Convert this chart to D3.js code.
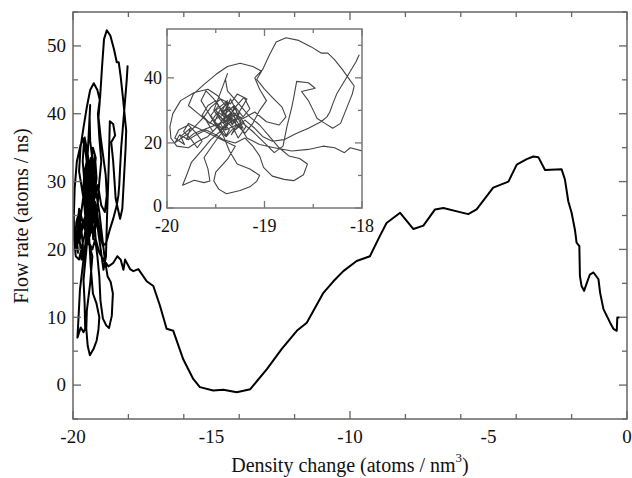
<!DOCTYPE html>
<html><head><meta charset="utf-8">
<script src="https://cdn.jsdelivr.net/npm/d3@7"></script>
<style>body{margin:0;background:#fff}svg{display:block}text{font-family:"Liberation Serif","Times New Roman",serif;fill:#111}</style>
</head><body>
<script>
// Trajectory: chaotic part (density change, flow rate)
const chaosDensity = [-18.03,-18.06,-18.10,-18.15,-18.20,-18.26,-18.30,-18.33,-18.36,-18.42,-18.55,-18.68,-18.80,-18.92,-19.02,
 -19.10,-19.20,-19.28,-19.35,-19.42,-19.38,-19.30,-19.45,-19.52,-19.40,-19.33,-19.25,-19.18,-19.28,-19.35,-19.45,-19.55,-19.62,-19.70,-19.78,-19.85,-19.92,-19.87,-19.78,-19.70,-19.60,-19.50,-19.42,-19.30,-19.20,-19.12,
 -19.05,-19.01,-18.92,-18.80,-18.70,-18.60,-18.56,-18.64,-18.75,-18.85,-18.95,
 -19.05,-19.15,-19.25,-19.38,-19.40,-19.38,-19.42,-19.47,-19.52,-19.45,-19.36,-19.40,-19.48,-19.58,-19.68,-19.78,-19.73,-19.62,-19.50,-19.38,-19.25,-19.12,-19.03,-19.08,-19.00,-18.92,-18.82,-18.78,-18.85,-18.98,-19.10,-19.22,-19.32,-19.40,-19.47,-19.38,
 -19.55,-19.65,-19.75,-19.80,-19.84,-19.72,-19.62,-19.56,-19.58,-19.62,-19.55,-19.48,-19.40,-19.33,-19.44,-19.36,-19.28,-19.22,
 -19.30,-19.26,-19.36,-19.31,-19.44,-19.38,-19.50,-19.43,-19.35,-19.40,-19.29,-19.34,-19.24,-19.30,-19.41,-19.47,-19.55,-19.49,-19.60,-19.53,-19.45,-19.39,-19.32,-19.27,-19.19,-19.25,-19.33,-19.42,-19.37,-19.46,-19.51,-19.44,-19.36,-19.28,-19.35,-19.40,-19.31,-19.22,-19.15,-19.21,-19.30,-19.38,-19.48,-19.56,-19.64,-19.58,-19.50,-19.43,-19.37,
 -19.72,-19.80,-19.76,-19.86,-19.82,-19.92,-19.88,-19.78,-19.70,-19.64,-19.69,-19.75,-19.83,-19.78,
 -19.30,-19.38,-19.50,-19.52,-19.47,-19.39,-19.25,-19.15,-19.08,-19.05,-19.15,-19.28,-19.36,-19.42,-19.50,-19.58,-19.65,-19.60,-19.52,-19.45,-19.38,-19.30,-19.20,-19.12,-19.05,-18.98,
 -19.05,-19.10,-19.02,-18.95,-18.88,-18.78,-18.65,-18.52,-18.42,-18.35,-18.28,-18.20,-18.14,-18.08,-18.10,-18.14,-18.18,-18.22,-18.30,-18.38,-18.46,-18.50,-18.55,-18.62,-18.48,-18.55,-18.67,-18.70,-18.72,-18.77,-18.81,-18.90,-19.00,-19.12,-19.22,-19.30,-19.42,-19.50,-19.58,-19.68,-19.78,-19.90,-19.96,-19.97,-19.94,-19.86,-19.72,-19.58,-19.48,-19.40,-19.32,-19.25,-19.18,-19.05,-18.90,-18.72,-18.55,-18.40,-18.28,-18.18];
const chaosFlow = [47.0,45.0,43.0,40.5,38.0,35.0,32.0,29.5,28.0,26.5,24.5,22.8,21.0,20.5,22.0,
 24.5,27.0,25.0,28.5,26.0,30.5,27.5,24.0,27.0,29.0,25.5,30.0,33.5,35.0,32.0,33.5,31.0,28.0,25.5,23.0,21.5,20.0,22.5,21.0,22.5,24.0,22.5,21.0,20.0,21.5,19.0,
 16.0,12.5,9.8,8.8,8.4,10.2,13.5,15.2,16.0,18.5,22.0,
 25.5,28.0,31.5,36.0,39.5,41.3,38.0,34.0,30.0,27.0,24.0,22.0,25.0,26.5,29.0,31.5,35.0,38.0,41.0,43.5,44.5,43.5,42.0,39.5,36.5,34.0,31.0,28.0,25.5,26.5,29.5,27.5,29.0,26.5,28.5,25.5,
 21.0,17.5,14.0,10.0,7.0,8.5,7.8,8.3,12.0,15.5,18.5,21.5,24.5,27.5,29.5,31.0,28.0,24.5,
 26.0,29.0,27.5,31.0,29.5,33.0,30.0,27.0,28.5,24.0,25.5,22.5,26.5,30.5,27.5,31.5,28.5,25.0,27.0,23.5,26.0,22.0,24.5,21.5,25.0,28.0,26.0,29.0,32.5,30.0,26.5,24.5,27.0,29.5,33.5,29.0,31.5,28.0,30.5,34.0,31.0,27.5,29.5,26.0,28.5,31.5,33.0,29.5,27.0,
 23.0,21.0,24.5,22.0,19.5,21.5,24.0,25.5,23.0,20.5,18.5,21.0,23.5,26.0,
 19.0,15.0,11.0,8.3,5.8,4.4,5.4,6.5,8.2,10.0,12.0,13.5,17.5,22.0,25.5,29.5,33.0,36.0,33.5,30.5,28.0,26.0,23.0,26.0,30.0,33.0,
 36.5,40.0,42.5,47.0,51.0,52.3,51.5,49.5,47.6,47.6,45.5,42.5,40.0,37.5,35.0,32.0,29.0,26.0,24.5,26.0,27.5,30.0,33.0,35.8,36.8,38.5,38.9,34.0,31.0,25.0,19.0,17.0,20.0,23.5,26.0,24.0,27.5,24.5,22.0,20.5,18.5,19.0,21.5,25.0,29.0,33.0,35.5,36.5,34.5,31.5,28.5,25.0,21.5,19.5,18.5,17.5,18.0,19.0,18.5,17.0];
// Trajectory: smooth part toward zero density change
const tailDensity = [-18.12,-17.94,-17.82,-17.64,-17.34,-17.10,-16.86,-16.62,-16.38,-16.02,-15.66,-15.42,-14.94,-14.57,-14.09,-13.6,-13.0,-12.47,-11.92,-11.56,-10.96,-10.6,-10.24,-9.76,-9.28,-8.92,-8.68,-8.19,-7.71,-7.35,-6.93,-6.63,-6.03,-5.73,-5.43,-4.83,-4.28,-3.98,-3.62,-3.38,-3.2,-2.96,-2.36,-2.24,-2.12,-2.0,-1.88,-1.82,-1.72,-1.70,-1.64,-1.55,-1.43,-1.34,-1.21,-1.03,-0.97,-0.85,-0.73,-0.61,-0.49,-0.37,-0.35,-0.29];
const tailFlow = [18.5,17.1,16.8,17.1,15.3,14.6,11.7,8.3,8.0,3.8,0.9,-0.3,-0.8,-0.7,-1.07,-0.6,2.35,5.3,8.0,9.2,13.6,15.3,16.8,18.3,19.0,22.0,23.9,25.4,23.0,23.5,25.9,26.1,25.5,25.2,25.9,29.1,30.0,32.5,33.3,33.7,33.6,31.7,31.8,30.3,27.1,25.4,22.9,21.0,20.5,16.1,14.6,13.9,15.3,16.3,16.6,15.6,13.6,11.2,10.2,9.2,8.3,8.0,9.95,9.95];

const xTicksMain = [-20,-15,-10,-5,0];
const yTicksMain = [0,10,20,30,40,50];
const xTicksInset = [-20,-19,-18];
const yTicksInset = [0,20,40];

const W = 632, H = 478;
const svg = d3.select("body").append("svg").attr("width", W).attr("height", H);

const density = chaosDensity.concat(tailDensity);
const flow = chaosFlow.concat(tailFlow);
const pts = density.map((d, i) => [d, flow[i]]);

function panel(g, x, y, opt) {
  const [x0, x1] = x.range(), [y0, y1] = y.range();
  const cid = "clip" + opt.id;
  g.append("clipPath").attr("id", cid).append("rect")
    .attr("x", x0).attr("y", y1).attr("width", x1 - x0).attr("height", y0 - y1);
  const line = d3.line().x(d => x(d[0])).y(d => y(d[1]));
  g.append("path").datum(pts).attr("d", line).attr("clip-path", `url(#${cid})`)
    .attr("fill", "none").attr("stroke", opt.lineColor).attr("stroke-width", opt.lineWidth)
    .attr("stroke-linejoin", "round").attr("stroke-linecap", "round");
  const frame = opt.frameColor;
  const xm = x.ticks(opt.xMinorCount), ym = y.ticks(opt.yMinorCount);
  xm.forEach(v => {
    const major = opt.xTicks.some(t => Math.abs(t - v) < 1e-9);
    const L = major ? opt.major : opt.minor;
    g.append("line").attr("x1", x(v)).attr("x2", x(v)).attr("y1", y0).attr("y2", y0 - L).attr("stroke", frame).attr("stroke-width", 1.3);
    g.append("line").attr("x1", x(v)).attr("x2", x(v)).attr("y1", y1).attr("y2", y1 + L).attr("stroke", frame).attr("stroke-width", 1.3);
  });
  ym.forEach(v => {
    const major = opt.yTicks.some(t => Math.abs(t - v) < 1e-9);
    const L = major ? opt.major : opt.minor;
    g.append("line").attr("y1", y(v)).attr("y2", y(v)).attr("x1", x0).attr("x2", x0 + L).attr("stroke", frame).attr("stroke-width", 1.3);
    g.append("line").attr("y1", y(v)).attr("y2", y(v)).attr("x1", x1).attr("x2", x1 - L).attr("stroke", frame).attr("stroke-width", 1.3);
  });
  g.append("rect").attr("x", x0).attr("y", y1).attr("width", x1 - x0).attr("height", y0 - y1)
    .attr("fill", "none").attr("stroke", frame).attr("stroke-width", 1.5);
  opt.xTicks.forEach(v => {
    g.append("text").attr("x", x(v)).attr("y", y0 + opt.xLabelOff)
      .attr("text-anchor", "middle").attr("font-size", opt.fs).text(v);
  });
  opt.yTicks.forEach(v => {
    g.append("text").attr("x", x0 - opt.yLabelOff).attr("y", y(v) + opt.fs * 0.33 + (opt.yLabelDy ? opt.yLabelDy(v) : 0))
      .attr("text-anchor", "end").attr("font-size", opt.fs).text(v);
  });
}

// main plot
const xMain = d3.scaleLinear().domain([-20, 0]).range([73, 627]);
const yMain = d3.scaleLinear().domain([-5, 55]).range([419, 12]);
const gMain = svg.append("g");
panel(gMain, xMain, yMain, {id: "m", lineColor: "#000", lineWidth: 2, frameColor: "#666",
  xTicks: xTicksMain, yTicks: yTicksMain, xMinorCount: 8, yMinorCount: 12, major: 8, minor: 5,
  fs: 19, xLabelOff: 24, yLabelOff: 7});

gMain.append("text").attr("transform", "translate(28,216) rotate(-90)").attr("text-anchor", "middle")
  .attr("font-size", 20).text("Flow rate (atoms / ns)");
const xt = gMain.append("text").attr("x", 350).attr("y", 472).attr("text-anchor", "middle").attr("font-size", 20);
xt.append("tspan").text("Density change (atoms / nm");
xt.append("tspan").attr("font-size", 13).attr("dy", -10).text("3");
xt.append("tspan").attr("dy", 10).text(")");

// inset
const xIn = d3.scaleLinear().domain([-20, -18]).range([167, 362]);
const yIn = d3.scaleLinear().domain([0, 55]).range([208, 29]);
const gIn = svg.append("g");
gIn.append("rect").attr("x", 167).attr("y", 29).attr("width", 195).attr("height", 179).attr("fill", "#fff");
panel(gIn, xIn, yIn, {id: "i", lineColor: "#444", lineWidth: 1.1, frameColor: "#777",
  xTicks: xTicksInset, yTicks: yTicksInset, xMinorCount: 4, yMinorCount: 6, major: 7, minor: 4,
  fs: 18, xLabelOff: 24, yLabelOff: 5, yLabelDy: v => v === 0 ? -2 : 0});
</script>
</body></html>
